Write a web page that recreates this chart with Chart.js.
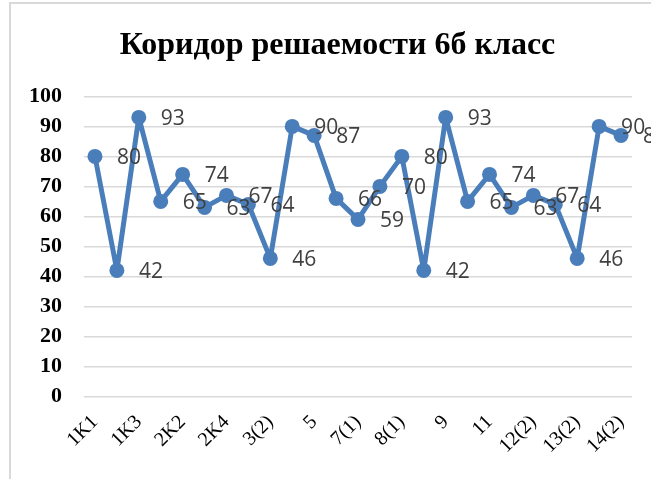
<!DOCTYPE html>
<html>
<head>
<meta charset="utf-8">
<script src="https://cdn.jsdelivr.net/npm/chart.js@4"></script>
<style>
  html, body { margin: 0; padding: 0; background: #fff; overflow: hidden; }
  #wrap { position: relative; width: 651px; height: 479px; overflow: hidden; }
  #frame { position: absolute; left: 9px; top: 2px; width: 800px; height: 800px; border: 2px solid #d9d9d9; box-sizing: border-box; }
  canvas { position: absolute; left: 0; top: 0; }
</style>
</head>
<body>
<div id="wrap">
  <div id="frame"></div>
  <canvas id="c" width="675" height="479"></canvas>
</div>
<script>
const titleText = 'Коридор решаемости 6б класс';
const categories = ['1K1','1K2','1K3','2K1','2K2','2K3','2K4','3(1)','3(2)','4','5','6','7(1)','7(2)','8(1)','8(2)','9','10','11','12(1)','12(2)','13(1)','13(2)','14(1)','14(2)'];
const values = [80, 42, 93, 65, 74, 63, 67, 64, 46, 90, 87, 66, 59, 70, 80, 42, 93, 65, 74, 63, 67, 64, 46, 90, 87];
const yTicks = [0, 10, 20, 30, 40, 50, 60, 70, 80, 90, 100];

const lineColor = '#4a7ebb';

const valueLabels = {
  id: 'valueLabels',
  afterDatasetsDraw(chart) {
    const ctx = chart.ctx;
    const meta = chart.getDatasetMeta(0);
    ctx.save();
    ctx.font = '21px "Open Sans"';
    ctx.fillStyle = '#404040';
    ctx.textAlign = 'left';
    ctx.textBaseline = 'middle';
    meta.data.forEach((pt, i) => {
      ctx.fillText(String(values[i]), pt.x + 22, pt.y + 2);
    });
    ctx.restore();
  }
};

new Chart(document.getElementById('c'), {
  type: 'line',
  data: {
    labels: categories,
    datasets: [{
      data: values,
      yAxisID: 'y',
      borderColor: lineColor,
      backgroundColor: lineColor,
      borderWidth: 5,
      borderJoinStyle: 'round',
      borderCapStyle: 'round',
      pointRadius: 7.5,
      pointHoverRadius: 7.5,
      pointBackgroundColor: lineColor,
      pointBorderWidth: 0,
      tension: 0,
      fill: false
    }]
  },
  options: {
    responsive: false,
    animation: false,
    events: [],
    layout: { padding: { left: 0, right: 0, top: 0, bottom: 7 } },
    plugins: {
      legend: { display: false },
      tooltip: { enabled: false },
      title: {
        display: true,
        text: titleText,
        color: '#000',
        font: { family: '"Liberation Serif"', size: 32, weight: 'bold' },
        padding: { top: 27, bottom: 31 }
      }
    },
    scales: {
      x: {
        offset: true,
        grid: { display: false, drawTicks: false },
        border: { display: false },
        ticks: {
          autoSkip: false,
          minRotation: 45,
          maxRotation: 45,
          padding: 14,
          color: '#000',
          font: { family: '"Liberation Serif"', size: 20 },
          callback: function (v, i) { return i % 2 === 0 ? categories[i] : ''; }
        }
      },
      y: {
        min: 0,
        max: 100,
        afterFit(scale) { scale.width = 84; },
        afterBuildTicks(scale) { scale.ticks = yTicks.map(v => ({ value: v })); },
        grid: { color: '#d9d9d9', lineWidth: 1.5, drawTicks: false },
        border: { display: false },
        ticks: {
          padding: 22,
          color: '#000',
          font: { family: '"Liberation Serif"', size: 22, weight: 'bold' }
        }
      },
      yRight: {
        position: 'right',
        min: 0,
        max: 100,
        afterFit(scale) { scale.width = 43; },
        grid: { display: false, drawTicks: false },
        border: { display: false },
        ticks: { display: false }
      }
    }
  },
  plugins: [valueLabels]
});
</script>
</body>
</html>
